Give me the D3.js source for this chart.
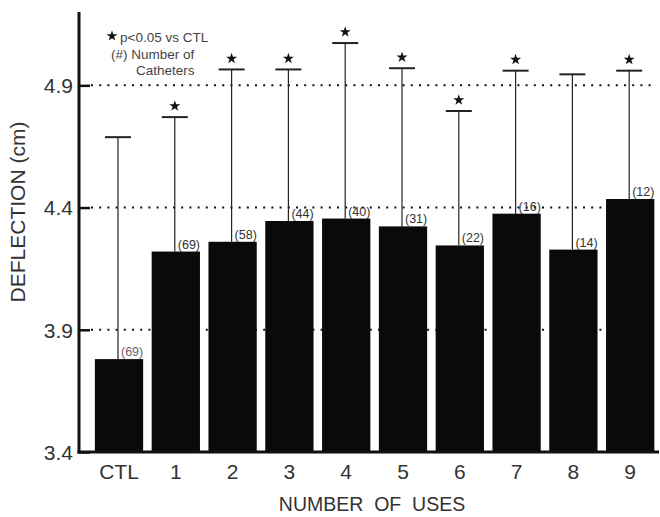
<!DOCTYPE html>
<html><head><meta charset="utf-8">
<script src="https://cdn.jsdelivr.net/npm/d3@7"></script>
<style>body{margin:0;background:#fff}svg{display:block}text{font-family:"Liberation Sans",Arial,sans-serif}</style>
</head><body><svg id="c" width="660" height="517"></svg>
<script>
const categories = ["CTL","1","2","3","4","5","6","7","8","9"];
const means = [3.78,4.22,4.26,4.345,4.355,4.323,4.245,4.375,4.228,4.435];
const upperSD = [4.688,4.77,4.965,4.965,5.073,4.97,4.795,4.96,4.945,4.96];
const counts = ["(69)","(69)","(58)","(44)","(40)","(31)","(22)","(16)","(14)","(12)"];
const significant = [false,true,true,true,true,true,true,true,false,true];
const yTicks = [3.4,3.9,4.4,4.9];
const gridValues = [3.9,4.4,4.9];

const svg = d3.select("#c");
const x0 = 79, xEnd = 659, yBase = 452, yTop = 12;
const y = d3.scaleLinear().domain([3.4,5.2]).range([yBase,yTop]);
const x = d3.scaleBand().domain(categories).range([90.6,658.6]).paddingInner(0.15).paddingOuter(0.075);

// gridlines
svg.append("g").selectAll("line").data(gridValues).join("line")
  .attr("x1",x0+12).attr("x2",xEnd-4).attr("y1",d=>y(d)).attr("y2",d=>y(d))
  .attr("stroke","#111").attr("stroke-width",2).attr("stroke-dasharray","2,6.2");

// error bars
const eb = svg.append("g");
categories.forEach((c,i)=>{
  const cx = x(c)+x.bandwidth()/2-1;
  eb.append("line").attr("x1",cx).attr("x2",cx).attr("y1",y(means[i])).attr("y2",y(upperSD[i]))
    .attr("stroke","#222").attr("stroke-width",1.2);
  eb.append("line").attr("x1",cx-13).attr("x2",cx+13).attr("y1",y(upperSD[i])).attr("y2",y(upperSD[i]))
    .attr("stroke","#222").attr("stroke-width",2);
  if(significant[i]){
    eb.append("path").attr("d",d3.symbol(d3.symbolStar,38)())
      .attr("transform",`translate(${cx},${y(upperSD[i])-11})`).attr("fill","#111");
  }
  svg.append("text").attr("x",cx+3).attr("y",y(means[i])-3)
    .attr("font-size",12.5).attr("fill",i===0?"#666":"#333").text(counts[i]);
});

// bars
svg.append("g").selectAll("rect").data(categories).join("rect")
  .attr("x",d=>x(d)).attr("width",x.bandwidth())
  .attr("y",(d,i)=>y(means[i])).attr("height",(d,i)=>yBase-y(means[i]))
  .attr("fill","#0a0a0a");

// axes
const yAxis = d3.axisLeft(y).tickValues(yTicks).tickSize(-11).tickPadding(6).tickFormat(d3.format(".1f"));
const gy = svg.append("g").attr("transform",`translate(${x0},0)`).call(yAxis);
gy.select(".domain").remove();
gy.selectAll(".tick line").attr("stroke","#111").attr("stroke-width",2.5);
gy.selectAll(".tick text").attr("font-size",21).attr("fill","#333").attr("x",-6).attr("dy","0.35em");
svg.append("line").attr("x1",x0).attr("x2",x0).attr("y1",yTop).attr("y2",yBase+1.5)
  .attr("stroke","#111").attr("stroke-width",3);
svg.append("line").attr("x1",x0-1.5).attr("x2",xEnd).attr("y1",yBase).attr("y2",yBase)
  .attr("stroke","#111").attr("stroke-width",3);

const xAxis = d3.axisBottom(x).tickSize(0).tickPadding(12);
const gx = svg.append("g").attr("transform",`translate(0,${yBase})`).call(xAxis);
gx.select(".domain").remove();
gx.selectAll(".tick text").attr("font-size",21).attr("fill","#333");

// axis titles
svg.append("text").attr("x",372).attr("y",511).attr("text-anchor","middle")
  .attr("font-size",19.5).attr("fill","#333").attr("xml:space","preserve").style("white-space","pre").text("NUMBER  OF  USES");
svg.append("text").attr("transform","translate(25,212) rotate(-90)").attr("text-anchor","middle")
  .attr("font-size",21).attr("fill","#333").text("DEFLECTION (cm)");

// legend
svg.append("path").attr("d",d3.symbol(d3.symbolStar,36)()).attr("transform","translate(112,36)").attr("fill","#111");
svg.append("text").attr("x",120).attr("y",42).attr("font-size",13.5).attr("fill","#444").text("p<0.05 vs CTL");
svg.append("text").attr("x",111).attr("y",59).attr("font-size",13.5).attr("fill","#444").text("(#) Number of");
svg.append("text").attr("x",136).attr("y",75).attr("font-size",13.5).attr("fill","#444").text("Catheters");
</script></body></html>
